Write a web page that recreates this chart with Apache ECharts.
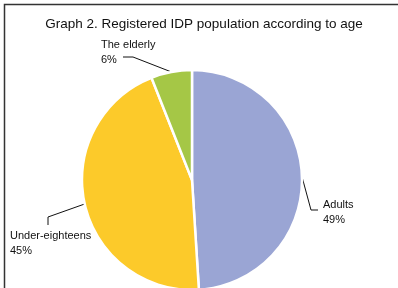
<!DOCTYPE html>
<html>
<head>
<meta charset="utf-8">
<script src="https://cdn.jsdelivr.net/npm/echarts@6/dist/echarts.min.js"></script>
<style>
  html, body { margin: 0; padding: 0; background: #fff; }
  #main { width: 398px; height: 288px; }
</style>
</head>
<body>
<div id="main"></div>
<script>
// data
var categories = ['Adults', 'Under-eighteens', 'The elderly'];
var shares = [49, 45, 6];
var colors = ['#9AA5D4', '#FCCA2A', '#A5C746'];

// where each label sits (text box top-left) and how its leader line bends
var labelPos = [
    { x: 323, y: 197, bend: [311, 210], end: [318, 210] },
    { x: 10, y: 228, bend: [48, 217], end: [48, 225] },
    { x: 101, y: 37, bend: [133, 57], end: [123, 57] }
];

var chart = echarts.init(document.getElementById('main'), null, { renderer: 'canvas' });

var pieData = categories.map(function (name, i) {
    return { name: name, value: shares[i], itemStyle: { color: colors[i] } };
});

var option = {
    animation: false,
    backgroundColor: '#fff',
    title: {
        text: 'Graph 2. Registered IDP population according to age',
        left: 199,
        top: 12,
        textAlign: 'center',
        textStyle: {
            fontFamily: 'Liberation Sans, Arial, sans-serif',
            fontSize: 13.5,
            fontWeight: 'normal',
            color: '#111'
        }
    },
    graphic: [{
        type: 'rect',
        shape: { x: 4.5, y: 4.5, width: 420, height: 320 },
        style: { fill: 'none', stroke: '#333', lineWidth: 1.5 },
        silent: true
    }],
    series: [{
        type: 'pie',
        center: [192, 180],
        radius: 110,
        startAngle: 90,
        clockwise: true,
        data: pieData,
        itemStyle: { borderColor: '#fff', borderWidth: 2.5 },
        label: {
            show: true,
            formatter: '{b}\n{d}%',
            overflow: 'none',
            fontFamily: 'Liberation Sans, Arial, sans-serif',
            fontSize: 11,
            lineHeight: 15,
            color: '#111'
        },
        labelLine: {
            show: true,
            lineStyle: { color: '#111', width: 1 }
        },
        labelLayout: function (params) {
            var p = labelPos[params.dataIndex];
            var start = params.labelLinePoints ? params.labelLinePoints[0] : p.bend;
            return {
                x: p.x, y: p.y, align: 'left', verticalAlign: 'top',
                labelLinePoints: [start, p.bend, p.end]
            };
        }
    }]
};

chart.setOption(option);
</script>
</body>
</html>
